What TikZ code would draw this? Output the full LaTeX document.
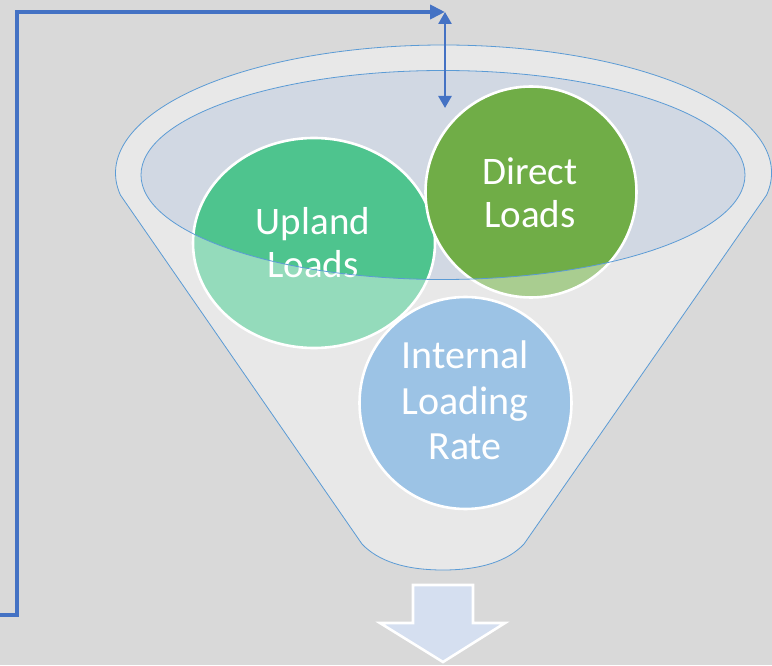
\documentclass[tikz,border=0pt]{standalone}
\usepackage{fontspec}
\setmainfont{Carlito}
\usetikzlibrary{arrows.meta}

\definecolor{bg}{HTML}{D9D9D9}
\definecolor{rimfill}{HTML}{D1D8E3}
\definecolor{edgeblue}{HTML}{5B9BD5}
\definecolor{linkblue}{HTML}{4472C4}
\definecolor{uplandgreen}{HTML}{4EC48E}
\definecolor{directgreen}{HTML}{70AD47}
\definecolor{internalblue}{HTML}{5B9BD5}
\definecolor{outflow}{HTML}{D5DFF0}

% outline of the funnel body: top rim arc, two sides and the rounded spout
\newcommand\funnelshape{%
  (443.5,492) ++(-9.9:328 and 128)
  arc[start angle=-9.9, end angle=189.9, x radius=328, y radius=128]
  -- (362,121) .. controls (378,104) and (405,95) .. (443,95)
  .. controls (481,95) and (508,104) .. (524,121) -- cycle}

\begin{document}
\begin{tikzpicture}[x=1pt,y=1pt,
  outline/.style={draw=edgeblue, line width=0.8pt},
  bubble/.style={draw=white, line width=2.6pt},
  label/.style={text=white, align=center, inner sep=0pt,
    font=\fontsize{39}{43}\selectfont},
  link/.style={draw=linkblue, line width=4pt,
    -{Triangle[length=15pt,width=14pt]}},
  gauge/.style={draw=linkblue, line width=2.6pt,
    {Triangle[length=12pt,width=13pt]}-{Triangle[length=12pt,width=13pt]}}]

  % canvas
  \fill[bg] (0,0) rectangle (772,665);
  \useasboundingbox (0,0) rectangle (772,665);

  % opening of the funnel
  \fill[rimfill] (443,490) ellipse[x radius=302, y radius=104.5];

  % the three inputs
  \filldraw[bubble, fill=uplandgreen] (314,422) ellipse[x radius=121, y radius=105];
  \filldraw[bubble, fill=directgreen] (531,473) circle[radius=105.5];
  \filldraw[bubble, fill=internalblue] (465.5,262) circle[radius=106];

  % translucent funnel wall (everything but the opening)
  \fill[white, fill opacity=0.4, even odd rule] \funnelshape
    (443,490) ellipse[x radius=302, y radius=104.5];

  % labels
  \node[label] (upland) at (313,422.5) {Upland\\Loads};
  \node[label] (direct) at (530,472.5) {Direct\\Loads};
  \node[label, font=\fontsize{40}{45.5}\selectfont] (internal) at (465,264.5)
    {Internal\\Loading\\Rate};

  % funnel edges
  \draw[outline] \funnelshape;
  \draw[outline] (443,490) ellipse[x radius=302, y radius=104.5];

  % feedback loop back to the top of the funnel
  \coordinate (feed) at (0,50);
  \coordinate (bend) at (17,50);
  \coordinate (inlet) at (445,653);
  \coordinate (rimtop) at (445,557);
  \draw[link] (feed) -- (bend) |- (inlet);
  \draw[gauge] (inlet) -- (rimtop);

  % output arrow below the spout
  \filldraw[draw=white, line width=2.6pt, fill=outflow, line join=miter]
    (413,80) -- (473,80) -- (473,42) -- (505,42) -- (443,3)
    -- (380,42) -- (413,42) -- cycle;
\end{tikzpicture}
\end{document}
